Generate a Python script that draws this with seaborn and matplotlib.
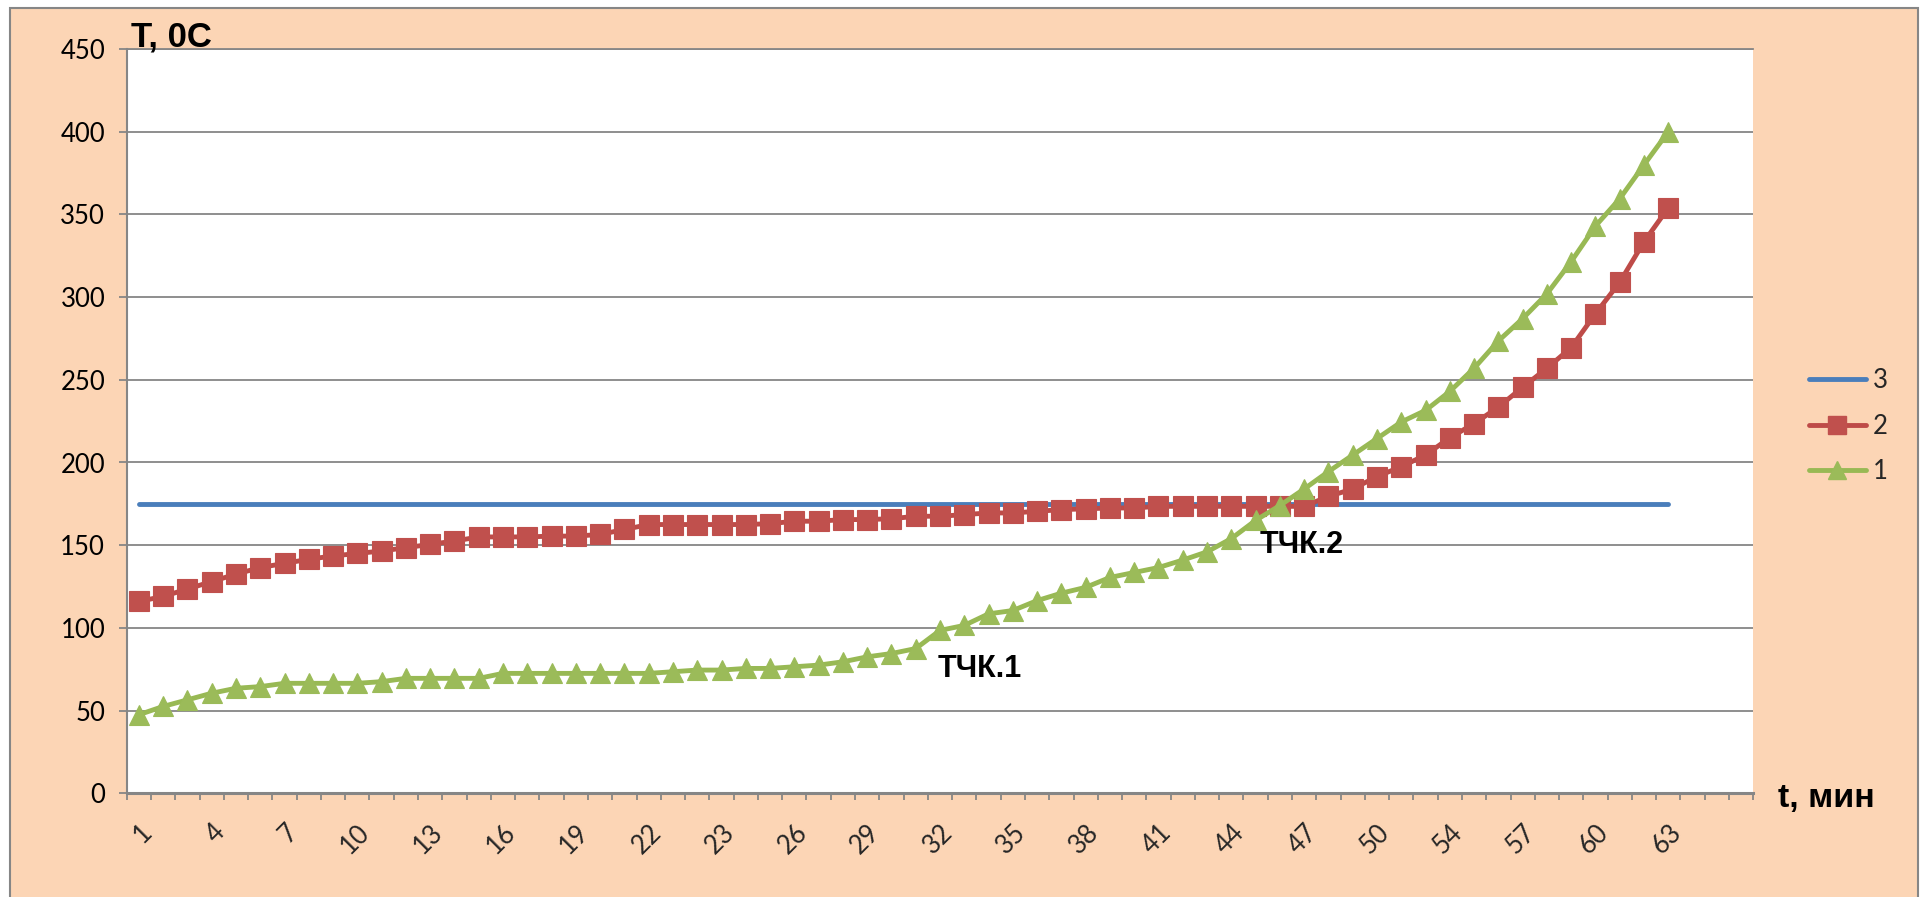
import numpy as np
import pandas as pd
import matplotlib
matplotlib.use("Agg")
import matplotlib.pyplot as plt
from matplotlib.patches import Rectangle
from matplotlib.lines import Line2D
import seaborn as sns

# Temperature readings, deg C, one value per reading
series_1 = [47.5, 52.5, 56.5, 60.5, 63.5, 64.5, 66.5, 66.5, 66.5, 66.5,
            67.5, 69.5, 69.5, 69.5, 69.5, 72.5, 72.5, 72.5, 72.5, 72.5,
            72.5, 72.5, 73.5, 74.5, 74.5, 75.5, 75.5, 76.5, 77.5, 79.5,
            82.5, 84.5, 87.5, 98.5, 101.5, 108.5, 110.5, 116.5, 121.0, 124.5,
            130.5, 133.5, 136.5, 141.0, 146.0, 154.0, 165.0, 174.0, 184.0, 194.5,
            204.5, 214.5, 224.5, 231.5, 243.0, 257.0, 273.5, 287.0, 302.0, 321.5,
            343.0, 359.5, 380.0, 400.0]

series_2 = [116.0, 119.0, 123.5, 128.0, 132.5, 136.5, 139.0, 141.5, 143.5, 145.0,
            146.5, 148.5, 150.5, 152.5, 155.0, 155.0, 155.0, 155.5, 155.5, 156.5,
            159.5, 162.5, 162.5, 162.5, 162.5, 162.5, 163.0, 164.5, 164.5, 165.5,
            165.5, 166.0, 167.5, 167.5, 168.5, 169.5, 169.5, 170.5, 171.5, 172.0,
            172.5, 172.5, 173.5, 173.5, 173.5, 173.5, 173.5, 173.5, 173.5, 179.5,
            184.0, 191.5, 197.5, 204.5, 215.0, 223.5, 233.5, 245.5, 257.0, 269.5,
            290.0, 309.0, 333.5, 354.0]

series_3 = [175.0] * 64

n_categories = 67
tick_labels = ["1", "4", "7", "10", "13", "16", "19", "22", "23", "26", "29",
               "32", "35", "38", "41", "44", "47", "50", "54", "57", "60", "63"]
y_ticks = [0, 50, 100, 150, 200, 250, 300, 350, 400, 450]

BLUE = "#4A7EBB"
RED = "#BE4B48"
RED_FILL = "#C0504D"
GREEN = "#98B954"
GREEN_FILL = "#9BBB59"
GRAY = "#868686"
PEACH = "#FCD5B5"

sns.set_style("white")
plt.rcParams["font.family"] = ["Lato", "DejaVu Sans"]

W, H = 1924, 897
fig = plt.figure(figsize=(W / 100, H / 100), dpi=100, facecolor="white")

# chart area background
fig.patches.append(Rectangle((10 / W, -0.05), (1918 - 10) / W, (H - 8) / H + 0.05,
                             transform=fig.transFigure, facecolor=PEACH,
                             edgecolor=GRAY, lw=1.5, zorder=-10))

left, right, top, bottom = 126.7, 1753.3, 49.0, 793.3
ax = fig.add_axes([left / W, (H - bottom) / H, (right - left) / W, (bottom - top) / H])
ax.set_zorder(1)
ax.set_facecolor("white")

df = pd.DataFrame({
    "idx": np.arange(len(series_1)),
    "s1": series_1,
    "s2": series_2,
    "s3": series_3,
})

LW = 3.5
sns.lineplot(data=df, x="idx", y="s3", ax=ax, color=BLUE, lw=LW,
             solid_capstyle="round", zorder=3)
sns.lineplot(data=df, x="idx", y="s2", ax=ax, color=RED, lw=LW, marker="s",
             markersize=14.8, markerfacecolor=RED_FILL, markeredgecolor=RED_FILL,
             markeredgewidth=0.8, zorder=4)
sns.lineplot(data=df, x="idx", y="s1", ax=ax, color=GREEN, lw=LW, marker="^",
             markersize=14.8, markerfacecolor=GREEN_FILL, markeredgecolor=GREEN_FILL,
             markeredgewidth=0.8, zorder=5)

ax.set_xlim(-0.5, n_categories - 0.5)
ax.set_ylim(0, 450)
ax.set_xlabel("")
ax.set_ylabel("")

TICK_FS = 18.5

# y axis
ax.set_yticks(y_ticks)
ax.set_yticklabels([str(v) for v in y_ticks], fontsize=TICK_FS, color="black")
ax.tick_params(axis="y", which="major", direction="out", length=5.5, width=1.3,
               color=GRAY, pad=10, left=True)
ax.yaxis.grid(True, color=GRAY, lw=1.3)
ax.set_axisbelow(True)

# x axis: tick marks between categories, labels on every third category
ax.set_xticks(np.arange(-0.5, n_categories, 1.0), minor=True)
ax.set_xticks(np.arange(0, 3 * len(tick_labels), 3))
ax.set_xticklabels(tick_labels, fontsize=TICK_FS, rotation=45, ha="right",
                   va="top", rotation_mode="anchor")
ax.tick_params(axis="x", which="major", length=0, pad=19, bottom=True)
ax.tick_params(axis="x", which="minor", direction="out", length=5, width=1.3,
               color=GRAY, bottom=True)

ax.spines["right"].set_visible(False)
ax.spines["top"].set_color(GRAY)
ax.spines["top"].set_linewidth(1.3)
ax.spines["left"].set_color(GRAY)
ax.spines["left"].set_linewidth(1.5)
ax.spines["bottom"].set_color(GRAY)
ax.spines["bottom"].set_linewidth(2.2)

bold = dict(family=["Liberation Sans", "DejaVu Sans"], fontweight="bold", color="black")
ax.text(-0.32, 451.5, "T, 0C", fontsize=25, va="baseline", ha="left", clip_on=False, **bold)
ax.text(67.5, -8.3, "t, мин", fontsize=24.5, va="baseline", ha="left", clip_on=False, **bold)
ax.text(32.9, 70.3, "ТЧК.1", fontsize=22, va="baseline", ha="left", **bold)
ax.text(46.15, 145.3, "ТЧК.2", fontsize=22, va="baseline", ha="left", **bold)

handles = [
    Line2D([], [], color=BLUE, lw=LW, solid_capstyle="round"),
    Line2D([], [], color=RED, lw=LW, marker="s", markersize=12.5,
           markerfacecolor=RED_FILL, markeredgecolor=RED_FILL),
    Line2D([], [], color=GREEN, lw=LW, marker="^", markersize=12.5,
           markerfacecolor=GREEN_FILL, markeredgecolor=GREEN_FILL),
]
fig.legend(handles, ["3", "2", "1"], loc="center left",
           bbox_to_anchor=(1809 / W, (H - 426) / H), frameon=False,
           fontsize=18.5, handlelength=2.2, handletextpad=0.3,
           labelspacing=0.8, borderpad=0, borderaxespad=0)

fig.savefig("out.png", dpi=100, facecolor="white")
